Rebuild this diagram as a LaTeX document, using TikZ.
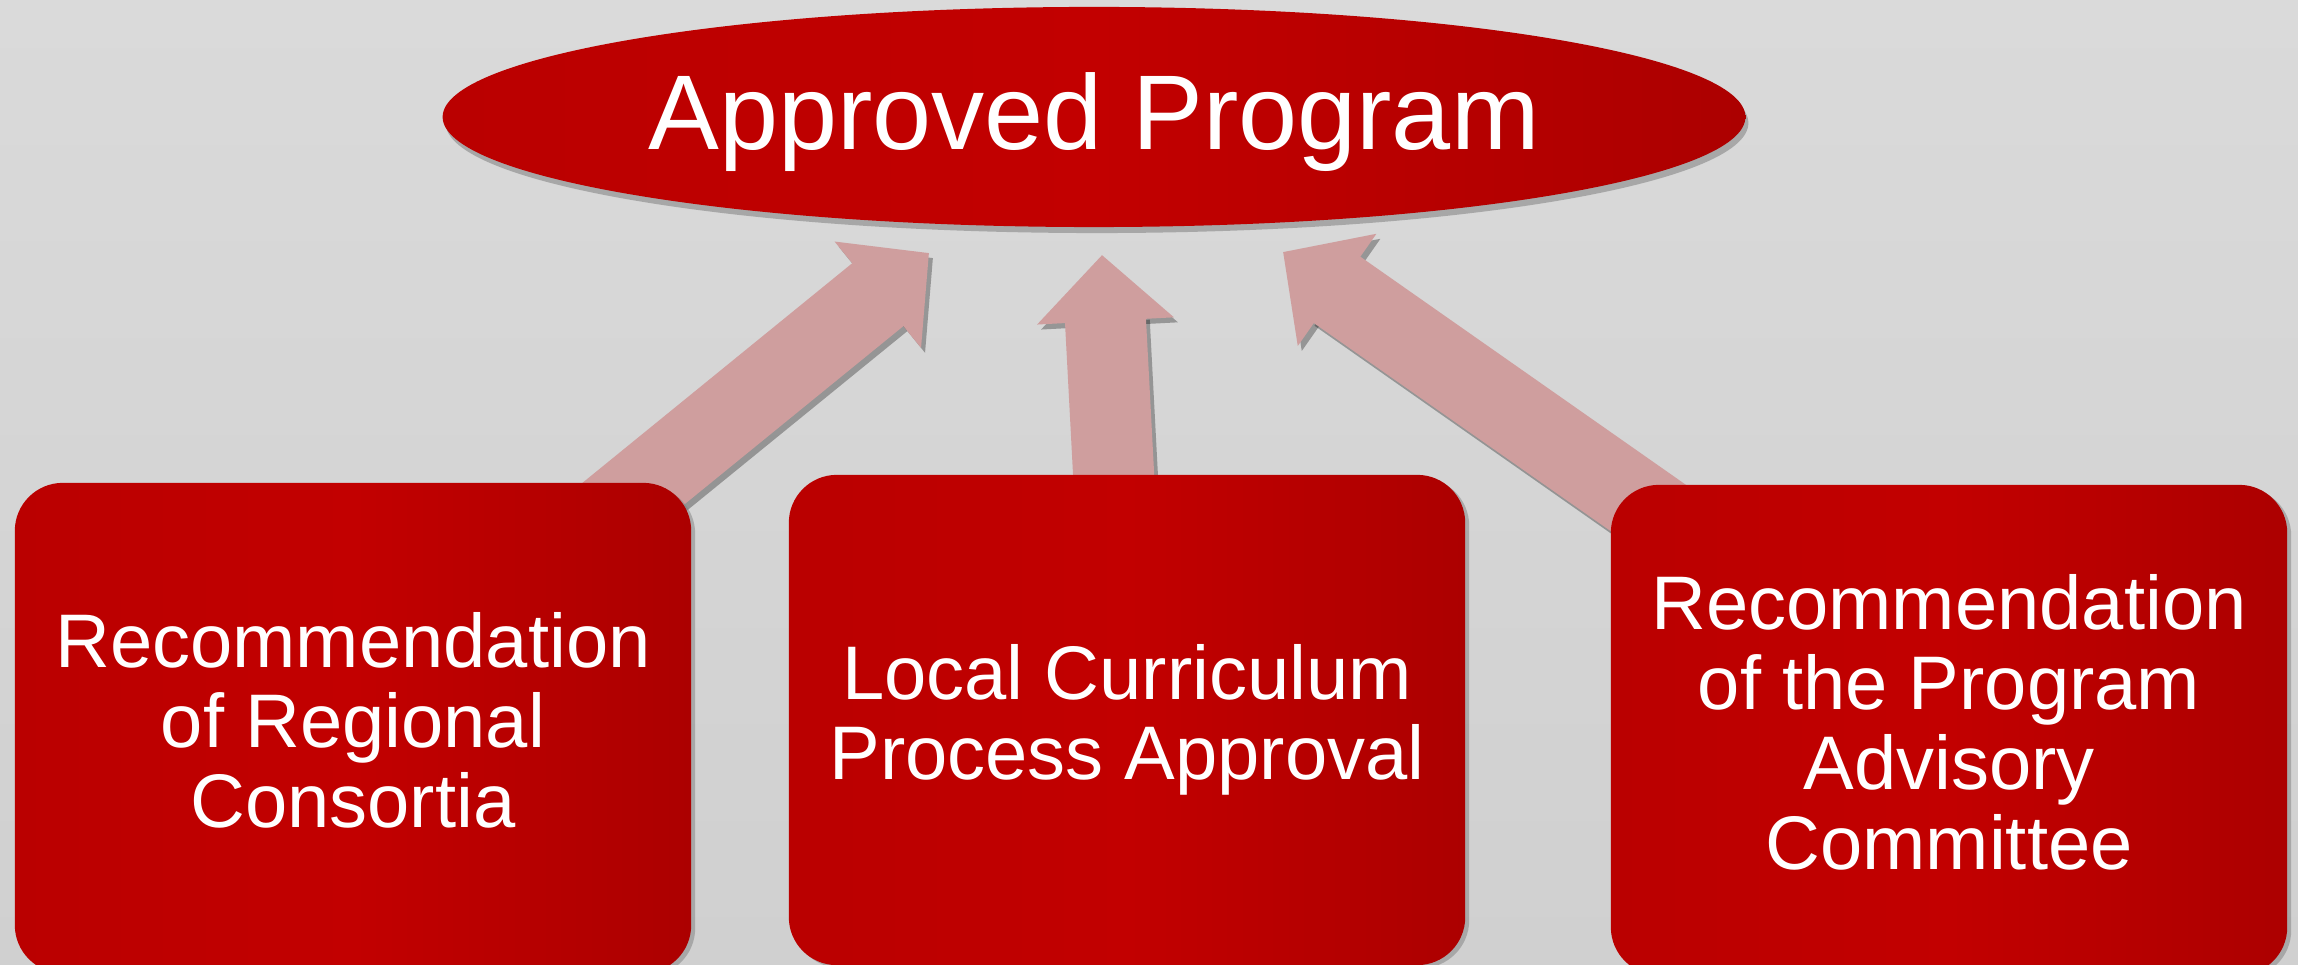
\documentclass[tikz,border=0pt]{standalone}
\usepackage{fontspec}
\setmainfont{Liberation Sans}
\usepackage{xcolor}
\usepackage{tikz}
\usetikzlibrary{calc, arrows.meta, shapes.geometric, shadows, positioning}
\definecolor{bgtop}{HTML}{DADADA}
\definecolor{bgbottom}{HTML}{D0D0D0}
\definecolor{redleft}{HTML}{BA0000}
\definecolor{redmid}{HTML}{C20000}
\definecolor{redright}{HTML}{AC0000}
\definecolor{pinkarrow}{HTML}{CF9E9E}
\tikzset{
	goal/.style={
		ellipse,
		inner sep=0pt,
		minimum width=13.02cm,
		minimum height=2.2cm,
		text depth=3.4pt,
		left color=redleft,
		right color=redright,
		middle color=redmid,
		text=white,
		font=\fontsize{30.2pt}{36pt}\selectfont,
		drop shadow={shadow xshift=0.3mm, shadow yshift=-0.6mm, opacity=0.55}
	},
	source/.style={
		rectangle,
		rounded corners=0.48cm,
		inner sep=0pt,
		minimum width=6.76cm,
		minimum height=4.9cm,
		text depth=4.6pt,
		align=center,
		left color=redleft,
		right color=redright,
		middle color=redmid,
		text=white,
		font=\fontsize{21.6pt}{22.8pt}\selectfont,
		drop shadow={shadow xshift=0.4mm, shadow yshift=-0.3mm, opacity=0.5}
	},
	bigarrow/.style={
		line width=0.81cm,
		draw=pinkarrow,
		-{Triangle[length=0.66cm, width=1.33cm]}
	},
	bigshadow/.style={
		bigarrow,
		draw=black,
		opacity=0.3
	}
}

\begin{document}
\begin{tikzpicture}[x=0.01cm, y=-0.01cm]
	\useasboundingbox (0,0) rectangle (2298,965);
	\shade[top color=bgtop, bottom color=bgbottom] (0,0) rectangle (2298,965);

	\node[goal] at (1094,117) (approved) {Approved Program};

	\coordinate (tail-1) at (601,520);
	\coordinate (tip-1) at (929,253);
	\coordinate (tail-2) at (1116,520);
	\coordinate (tip-2) at (1102,255);
	\coordinate (tail-3) at (1694,540);
	\coordinate (tip-3) at (1283,252);
	\foreach \i in {1,2,3} {
		\draw[bigshadow] ($(tail-\i)+(4,5)$) -- ($(tip-\i)+(4,5)$);
		\draw[bigarrow] (tail-\i) -- (tip-\i);
	}

	\node[source] at (353,728) (consortia) {Recommendation\\of Regional\\Consortia};
	\node[source] at (1127,720) (curriculum) {Local Curriculum\\Process Approval};
	\node[source] at (1949,730) (advisory) {Recommendation\\of the Program\\Advisory\\Committee};
\end{tikzpicture}
\end{document}
